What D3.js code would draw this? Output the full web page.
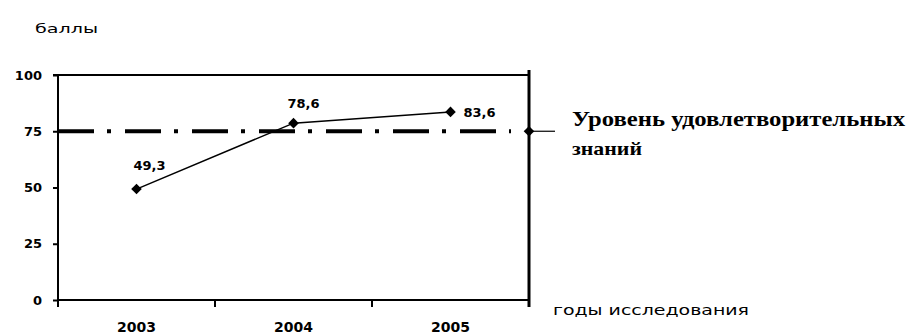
<!DOCTYPE html>
<html>
<head>
<meta charset="utf-8">
<script src="https://cdn.jsdelivr.net/npm/d3@7"></script>
<style>
  html, body { margin: 0; padding: 0; background: #fff; }
  svg { display: block; }
</style>
</head>
<body>
<svg id="chart" width="908" height="335"></svg>
<script>
// Survey years and average score per year
const years = ["2003", "2004", "2005"];
const scores = [49.3, 78.6, 83.6];
const yTicks = [0, 25, 50, 75, 100];
// Threshold for satisfactory knowledge
const satisfactoryLevel = 75;
const levelLabel = ["Уровень удовлетворительных", "знаний"];

const svg = d3.select("#chart");
const plotLeft = 58, plotRight = 529, plotTop = 75, plotBottom = 300;

const x = d3.scaleBand().domain(years).range([plotLeft, plotRight]);
const y = d3.scaleLinear().domain([0, 100]).range([plotBottom, plotTop]);

const sans = "'DejaVu Sans', Verdana, sans-serif";
const serif = "'Liberation Serif', 'Times New Roman', serif";

// Top border of the plot area
svg.append("line")
  .attr("x1", plotLeft).attr("x2", plotRight)
  .attr("y1", y(100)).attr("y2", y(100))
  .attr("stroke", "#000").attr("stroke-width", 2);

// Y axis (left)
const yAxis = svg.append("g")
  .attr("transform", `translate(${plotLeft},0)`)
  .call(d3.axisLeft(y).tickValues(yTicks).tickSize(5).tickPadding(11));
yAxis.select(".domain").attr("stroke-width", 2).attr("d", `M-5,${y(100)}H0V${plotBottom + 7}`);
yAxis.selectAll(".tick line").attr("stroke-width", 2);
yAxis.selectAll(".tick text")
  .attr("font-family", sans).attr("font-weight", "bold").attr("font-size", 13).attr("fill", "#000");

// X axis with ticks on category boundaries
const xAxis = svg.append("g").attr("transform", `translate(0,${plotBottom})`);
xAxis.append("line")
  .attr("x1", plotLeft).attr("x2", plotRight).attr("y1", 0).attr("y2", 0)
  .attr("stroke", "#000").attr("stroke-width", 2);
const boundaries = years.map(d => x(d)).concat([x(years[years.length - 1]) + x.bandwidth()]);
xAxis.selectAll("line.tk").data(boundaries).join("line")
  .attr("class", "tk")
  .attr("x1", d => d).attr("x2", d => d).attr("y1", 0).attr("y2", 7)
  .attr("stroke", "#000").attr("stroke-width", 2);
xAxis.selectAll("text.yr").data(years).join("text")
  .attr("class", "yr")
  .attr("x", d => x(d) + x.bandwidth() / 2)
  .attr("y", 32)
  .attr("text-anchor", "middle")
  .attr("font-family", sans).attr("font-weight", "bold").attr("font-size", 14)
  .text(d => d);

// Right axis
svg.append("line")
  .attr("x1", plotRight).attr("x2", plotRight)
  .attr("y1", plotTop - 5).attr("y2", plotBottom + 7)
  .attr("stroke", "#000").attr("stroke-width", 3);

// Satisfactory level: thick dash-dot line
svg.append("line")
  .attr("x1", plotLeft).attr("x2", plotRight - 18)
  .attr("y1", y(satisfactoryLevel)).attr("y2", y(satisfactoryLevel))
  .attr("stroke", "#000").attr("stroke-width", 4)
  .attr("stroke-dasharray", "36,13,4,14");

// Rotated square used as the diamond marker
const diamond = d3.symbol().type(d3.symbolSquare).size(56)();

// Level marker on the right axis and connector to its label
svg.append("path")
  .attr("d", diamond)
  .attr("transform", `translate(${plotRight},${y(satisfactoryLevel)}) rotate(45)`)
  .attr("fill", "#000");
svg.append("line")
  .attr("x1", plotRight).attr("x2", plotRight + 26)
  .attr("y1", y(satisfactoryLevel)).attr("y2", y(satisfactoryLevel))
  .attr("stroke", "#000").attr("stroke-width", 1.2);
svg.append("text")
  .attr("x", 572).attr("y", 126)
  .attr("font-family", serif).attr("font-weight", "bold").attr("font-size", 20)
  .attr("textLength", 333).attr("lengthAdjust", "spacingAndGlyphs")
  .text(levelLabel[0]);
svg.append("text")
  .attr("x", 572).attr("y", 155)
  .attr("font-family", serif).attr("font-weight", "bold").attr("font-size", 19)
  .attr("textLength", 70).attr("lengthAdjust", "spacingAndGlyphs")
  .text(levelLabel[1]);

// Score line with diamond markers
const pts = years.map((d, i) => ({ year: d, v: scores[i] }));
const cx = d => x(d.year) + x.bandwidth() / 2;
svg.append("path")
  .datum(pts)
  .attr("d", d3.line().x(cx).y(d => y(d.v)))
  .attr("fill", "none").attr("stroke", "#000").attr("stroke-width", 1.5);
svg.selectAll("path.mk").data(pts).join("path")
  .attr("class", "mk")
  .attr("d", diamond)
  .attr("transform", d => `translate(${cx(d)},${y(d.v)}) rotate(45)`)
  .attr("fill", "#000");

// Value labels
const fmt = v => v.toFixed(1).replace(".", ",");
const labelOffsets = [[-3, -19], [-6, -15], [13, 5]];
svg.selectAll("text.val").data(pts).join("text")
  .attr("class", "val")
  .attr("x", (d, i) => cx(d) + labelOffsets[i][0])
  .attr("y", (d, i) => y(d.v) + labelOffsets[i][1])
  .attr("font-family", sans).attr("font-weight", "bold").attr("font-size", 13)
  .text(d => fmt(d.v));

// Axis titles
svg.append("text")
  .attr("x", 35).attr("y", 33)
  .attr("font-family", sans).attr("font-size", 13)
  .attr("textLength", 63).attr("lengthAdjust", "spacingAndGlyphs")
  .text("баллы");
svg.append("text")
  .attr("x", 553).attr("y", 315)
  .attr("font-family", sans).attr("font-size", 14)
  .attr("textLength", 196).attr("lengthAdjust", "spacingAndGlyphs")
  .text("годы исследования");
</script>
</body>
</html>
